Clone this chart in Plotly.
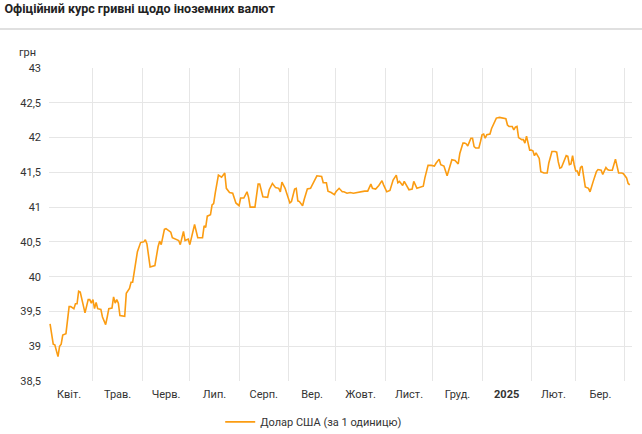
import pandas as pd
import plotly.graph_objects as go

# official UAH/USD rate
# days counted from 2024-04-01
days = [3, 5, 6, 8, 9, 10, 11, 13, 15, 16, 18, 19, 20, 21, 22, 25, 27, 28, 29, 30,
        31, 32, 33, 35, 36, 38, 39, 40, 42, 43, 44, 45, 46, 47, 50, 51, 53, 54, 55, 57,
        58, 60, 62, 63, 64, 66, 68, 69, 71, 72, 73, 75, 76, 78, 79, 80, 83, 84, 85, 87,
        88, 90, 91, 93, 94, 96, 99, 100, 101, 102, 104, 105, 106, 107, 108, 109, 111, 113, 114, 116,
        118, 119, 120, 122, 123, 125, 127, 128, 129, 132, 133, 134, 135, 137, 140, 141, 143, 145, 147, 148,
        149, 151, 152, 154, 155, 157, 158, 159, 160, 162, 163, 165, 167, 169, 171, 174, 175, 177, 178, 180,
        182, 183, 185, 187, 188, 190, 192, 194, 196, 199, 201, 203, 205, 206, 208, 210, 212, 213, 215, 217,
        219, 221, 222, 223, 225, 226, 228, 229, 231, 232, 234, 235, 237, 238, 239, 240, 241, 243, 245, 246,
        248, 249, 251, 253, 254, 256, 258, 259, 260, 261, 263, 264, 265, 266, 268, 269, 270, 271, 273, 274,
        275, 276, 277, 278, 280, 281, 283, 284, 286, 288, 290, 291, 292, 294, 295, 296, 297, 298, 300, 301,
        302, 303, 304, 305, 306, 307, 308, 309, 311, 312, 314, 316, 317, 318, 319, 321, 322, 323, 324, 325,
        327, 328, 329, 330, 331, 332, 333, 334, 335, 336, 337, 338, 339, 340, 342, 343, 345, 347, 348, 349,
        350, 351, 353, 354, 355, 357, 358, 359, 360, 361, 363, 364, 366, 367, 368]
usd = [39.32, 39.03, 39.02, 38.85, 39.00, 39.03, 39.16, 39.18, 39.57, 39.57, 39.54, 39.61, 39.61, 39.79, 39.78, 39.48, 39.67, 39.67, 39.62, 39.67,
       39.54, 39.63, 39.54, 39.53, 39.42, 39.31, 39.42, 39.54, 39.55, 39.71, 39.62, 39.67, 39.62, 39.44, 39.43, 39.76, 39.83, 39.92, 39.92, 40.19,
       40.36, 40.49, 40.50, 40.53, 40.47, 40.14, 40.16, 40.16, 40.43, 40.51, 40.46, 40.68, 40.69, 40.65, 40.64, 40.56, 40.53, 40.52, 40.46, 40.65,
       40.52, 40.54, 40.46, 40.69, 40.75, 40.56, 40.56, 40.73, 40.71, 40.87, 40.89, 41.03, 41.05, 41.20, 41.34, 41.46, 41.43, 41.49, 41.27, 41.21,
       41.20, 41.11, 41.06, 41.02, 41.13, 41.13, 41.22, 41.14, 41.00, 41.00, 41.15, 41.33, 41.33, 41.15, 41.14, 41.25, 41.34, 41.28, 41.27, 41.22,
       41.36, 41.27, 41.20, 41.06, 41.08, 41.26, 41.27, 41.09, 41.08, 41.02, 41.11, 41.26, 41.27, 41.37, 41.45, 41.44, 41.35, 41.35, 41.23, 41.21,
       41.18, 41.22, 41.27, 41.22, 41.22, 41.20, 41.21, 41.20, 41.21, 41.23, 41.23, 41.23, 41.33, 41.27, 41.26, 41.31, 41.38, 41.32, 41.22, 41.24,
       41.39, 41.46, 41.35, 41.37, 41.31, 41.37, 41.29, 41.25, 41.26, 41.37, 41.27, 41.28, 41.29, 41.30, 41.42, 41.51, 41.60, 41.60, 41.59, 41.63,
       41.69, 41.61, 41.59, 41.45, 41.54, 41.68, 41.67, 41.64, 41.62, 41.77, 41.92, 41.92, 41.91, 41.88, 41.99, 41.99, 41.87, 41.85, 41.85, 41.94,
       42.04, 42.05, 41.99, 42.04, 42.05, 42.13, 42.23, 42.28, 42.29, 42.28, 42.27, 42.18, 42.16, 42.16, 42.11, 42.15, 42.16, 42.00, 41.97, 41.97,
       41.92, 42.02, 41.91, 41.82, 41.82, 41.81, 41.74, 41.78, 41.70, 41.51, 41.49, 41.49, 41.63, 41.74, 41.80, 41.80, 41.79, 41.65, 41.56, 41.57,
       41.70, 41.74, 41.73, 41.61, 41.62, 41.74, 41.61, 41.52, 41.52, 41.45, 41.57, 41.59, 41.44, 41.29, 41.27, 41.22, 41.37, 41.51, 41.54, 41.53,
       41.53, 41.47, 41.57, 41.54, 41.53, 41.53, 41.61, 41.69, 41.59, 41.49, 41.49, 41.48, 41.42, 41.34, 41.32]

month_labels = ['Квіт.', 'Трав.', 'Черв.', 'Лип.', 'Серп.', 'Вер.', 'Жовт.',
                'Лист.', 'Груд.', '<b>2025</b>', 'Лют.', 'Бер.']
y_ticks = [38.5, 39, 39.5, 40, 40.5, 41, 41.5, 42, 42.5, 43]
y_labels = ['38,5', '39', '39,5', '40', '40,5', '41', '41,5', '42', '42,5', '43']

dates = pd.Timestamp('2024-04-01') + pd.to_timedelta(days, unit='D')
month_starts = pd.date_range('2024-04-01', '2025-04-01', freq='MS')
month_mids = month_starts[:-1] + (month_starts[1:] - month_starts[:-1]) / 2

fig = go.Figure()
fig.add_trace(go.Scatter(
    x=dates, y=usd, mode='lines', name='Долар США (за 1 одиницю)',
    line=dict(color='#fb9c12', width=1.6),
))

grid = '#e6e6e6'
fig.update_layout(
    width=642, height=434,
    margin=dict(l=49, r=10, t=68, b=53, autoexpand=False),
    paper_bgcolor='white', plot_bgcolor='white',
    font=dict(family='Roboto', size=11, color='#333333'),
    title=dict(text='<b>Офіційний курс гривні щодо іноземних валют</b>',
               x=0.007, xanchor='left', y=0.979, yanchor='middle',
               font=dict(size=12.5, color='#222222')),
    showlegend=True,
    legend=dict(orientation='h', xref='container', x=0.343, xanchor='left',
                yref='container', y=0.028, yanchor='middle',
                font=dict(size=11, color='#333333')),
    xaxis=dict(
        range=['2024-04-03 08:00', '2025-04-05 10:00'],
        tickmode='array', tickvals=month_mids, ticktext=month_labels,
        showgrid=False, zeroline=False, showline=False, ticks='',
        ticklabelstandoff=5,
        minor=dict(tickmode='array', tickvals=month_starts, showgrid=True,
                   gridcolor=grid, gridwidth=1, ticks=''),
    ),
    yaxis=dict(
        range=[38.5, 43], tickmode='array', tickvals=y_ticks, ticktext=y_labels,
        showgrid=True, gridcolor=grid, gridwidth=1.3, zeroline=False,
        showline=False, ticks='', ticklabelstandoff=7,
    ),
    shapes=[dict(type='line', xref='paper', yref='paper',
                 x0=-0.09, x1=1.02, y0=1.1246, y1=1.1246,
                 line=dict(color='#e0e0e0', width=2))],
    annotations=[dict(text='грн', xref='paper', yref='paper', x=0, y=1,
                      xanchor='right', yanchor='middle', xshift=-11, yshift=16,
                      showarrow=False, font=dict(size=11, color='#333333'))],
)

# drop the default 8px body margin so the figure fills the window
fig.write_html('out.html', config={'displayModeBar': False},
               post_script="document.body.style.margin='0px';")
